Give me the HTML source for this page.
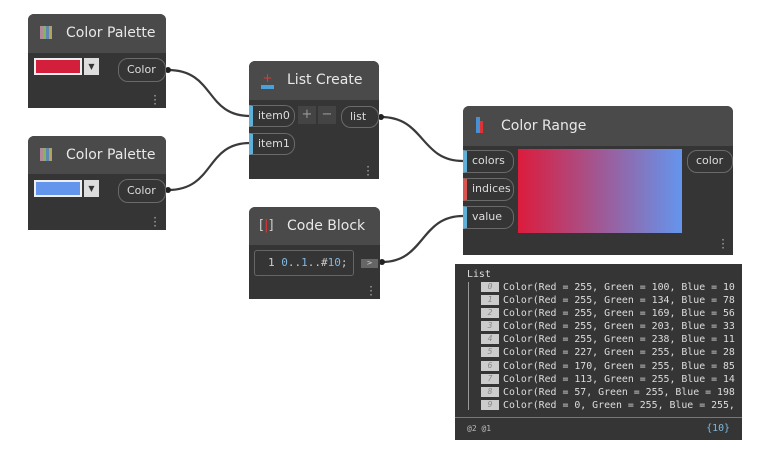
<!DOCTYPE html>
<html><head><style>
body{margin:0;width:770px;height:450px;background:#fff;position:relative;overflow:hidden;font-family:"DejaVu Sans","Liberation Sans",sans-serif;}
.n{position:absolute;background:#353535;border-radius:6px 6px 0 0;}
.h{position:absolute;left:0;right:0;top:0;background:#4a4a4a;border-radius:6px 6px 0 0;color:#e8e8e8;font-size:14px;}
.p{position:absolute;border:1px solid #6a6a6a;border-radius:10px;color:#ddd;font-size:11px;box-sizing:border-box;padding-left:8px;line-height:20px;background:#353535}
.in{border-left:4px solid #5fb0d8;border-radius:0 10px 10px 0;padding-left:5px}
.dots{position:absolute;color:#aaa;font-size:12px;line-height:4px;width:4px;text-align:center}
.mono{font-family:"DejaVu Sans Mono","Liberation Mono",monospace}
.b{display:inline-block;width:18px;height:10px;background:#ccc;color:#888;font-style:italic;text-align:center;line-height:10px;font-size:8px;margin-right:4px;vertical-align:middle}
</style></head><body>
<svg width="770" height="450" style="position:absolute;left:0;top:0">
<g stroke="#3a3a3a" stroke-width="2.2" fill="none">
<path d="M168 70 C215 70 205 116 250 116"/>
<path d="M168 190 C215 190 205 143 250 143"/>
<path d="M381 117 C425 117 420 161 463 161"/>
<path d="M382 262 C425 262 420 216 463 216"/>
</g>
<g fill="#222"><circle cx="168" cy="70" r="3"/><circle cx="168" cy="190" r="3"/><circle cx="381" cy="117" r="3"/><circle cx="382" cy="262" r="3"/></g>
</svg>

<div class="n" style="left:28px;top:14px;width:138px;height:94px">
<div class="h" style="height:39px"><span style="position:absolute;left:12px;top:12px;width:12px;height:13px;background:repeating-linear-gradient(90deg,#c9a 0 3px,#9c6 3px 6px,#69c 6px 9px,#cb6 9px 12px);opacity:.8"></span><span style="position:absolute;left:38px;top:11px">Color Palette</span></div>
<div style="position:absolute;left:6px;top:44px;width:48px;height:17px;background:#d41f3c;border:2px solid #eee;box-sizing:border-box"></div>
<div style="position:absolute;left:56px;top:44px;width:15px;height:17px;background:#ddd;color:#333;font-size:8px;text-align:center;line-height:17px">▼</div>
<div class="p" style="left:90px;top:44px;width:48px;height:24px;line-height:22px">Color</div>
<div class="dots" style="left:125px;top:80px">·<br>·<br>·</div>
</div>
<div class="n" style="left:28px;top:136px;width:138px;height:94px">
<div class="h" style="height:38px"><span style="position:absolute;left:12px;top:12px;width:12px;height:13px;background:repeating-linear-gradient(90deg,#c9a 0 3px,#9c6 3px 6px,#69c 6px 9px,#cb6 9px 12px);opacity:.8"></span><span style="position:absolute;left:38px;top:11px">Color Palette</span></div>
<div style="position:absolute;left:6px;top:44px;width:48px;height:17px;background:#6495ed;border:2px solid #eee;box-sizing:border-box"></div>
<div style="position:absolute;left:56px;top:44px;width:15px;height:17px;background:#ddd;color:#333;font-size:8px;text-align:center;line-height:17px">▼</div>
<div class="p" style="left:90px;top:43px;width:48px;height:24px;line-height:22px">Color</div>
<div class="dots" style="left:125px;top:80px">·<br>·<br>·</div>
</div>
<div class="n" style="left:249px;top:61px;width:130px;height:118px">
<div class="h" style="height:39px"><span style="position:absolute;left:12px;top:14px;width:13px;height:10px;border-bottom:4px solid #4aa0d8;color:#e33;font-size:12px;line-height:6px;text-align:center">+</span><span style="position:absolute;left:38px;top:11px">List Create</span></div>
<div class="p in" style="left:0;top:44px;width:46px;height:22px">item0</div>
<div style="position:absolute;left:49px;top:45px;width:18px;height:18px;background:#444;color:#999;text-align:center;font-size:13px;line-height:18px">+</div>
<div style="position:absolute;left:69px;top:45px;width:18px;height:18px;background:#444;color:#999;text-align:center;font-size:13px;line-height:18px">−</div>
<div class="p" style="left:92px;top:45px;width:38px;height:22px">list</div>
<div class="p in" style="left:0;top:72px;width:46px;height:22px">item1</div>
<div class="dots" style="left:117px;top:104px">·<br>·<br>·</div>
</div>
<div class="n" style="left:249px;top:207px;width:131px;height:92px">
<div class="h" style="height:38px"><span style="position:absolute;left:10px;top:11px;color:#ccc;font-size:13px">[<span style="color:#d33">|</span>]</span><span style="position:absolute;left:38px;top:11px">Code Block</span></div>
<div class="mono" style="position:absolute;left:5px;top:43px;width:100px;height:26px;border:1px solid #666;border-radius:3px;box-sizing:border-box;font-size:11px;line-height:24px;color:#ccc;padding-left:13px;white-space:nowrap">1 <span style="color:#7fb8e0">0</span>..<span style="color:#7fb8e0">1</span>..#<span style="color:#7fb8e0">10</span>;</div>
<div style="position:absolute;left:112px;top:52px;width:17px;height:9px;background:#666;color:#ddd;font-size:7px;text-align:center;line-height:9px">&gt;</div>
<div class="dots" style="left:120px;top:78px">·<br>·<br>·</div>
</div>
<div class="n" style="left:463px;top:106px;width:270px;height:149px">
<div class="h" style="height:40px"><span style="position:absolute;left:13px;top:11px;width:4px;height:16px;background:#4a8fd0"></span><span style="position:absolute;left:17px;top:15px;width:3px;height:12px;background:#d33"></span><span style="position:absolute;left:38px;top:12px">Color Range</span></div>
<div class="p in" style="left:0;top:44px;width:51px;height:23px">colors</div>
<div class="p in" style="left:0;top:72px;width:51px;height:23px;border-left-color:#d9534f">indices</div>
<div class="p in" style="left:0;top:100px;width:51px;height:23px">value</div>
<div style="position:absolute;left:55px;top:43px;width:164px;height:84px;background:linear-gradient(90deg,#dc1c3c,#6495ed)"></div>
<div class="p" style="left:224px;top:44px;width:46px;height:23px">color</div>
<div class="dots" style="left:258px;top:132px">·<br>·<br>·</div>
</div>
<div class="mono" style="position:absolute;left:455px;top:264px;width:287px;height:176px;background:#353535;color:#ddd;font-size:9.9px;overflow:hidden">
<div style="position:absolute;left:12px;top:5px">List</div>
<div style="position:absolute;left:13px;top:18px;width:1px;height:128px;background:#999"></div>
<div style="position:absolute;left:26px;top:17px;line-height:13.1px;white-space:pre"><span class="b">0</span>Color(Red = 255, Green = 100, Blue = 10
<span class="b">1</span>Color(Red = 255, Green = 134, Blue = 78
<span class="b">2</span>Color(Red = 255, Green = 169, Blue = 56
<span class="b">3</span>Color(Red = 255, Green = 203, Blue = 33
<span class="b">4</span>Color(Red = 255, Green = 238, Blue = 11
<span class="b">5</span>Color(Red = 227, Green = 255, Blue = 28
<span class="b">6</span>Color(Red = 170, Green = 255, Blue = 85
<span class="b">7</span>Color(Red = 113, Green = 255, Blue = 14
<span class="b">8</span>Color(Red = 57, Green = 255, Blue = 198
<span class="b">9</span>Color(Red = 0, Green = 255, Blue = 255,</div>
<div style="position:absolute;left:0;right:0;top:153px;height:1px;background:#777"></div>
<div style="position:absolute;left:12px;top:160px;font-size:8px;color:#bbb">@2 @1</div>
<div style="position:absolute;right:12px;top:159px;color:#7fb8e0">{10}</div>
</div>
</body></html>
